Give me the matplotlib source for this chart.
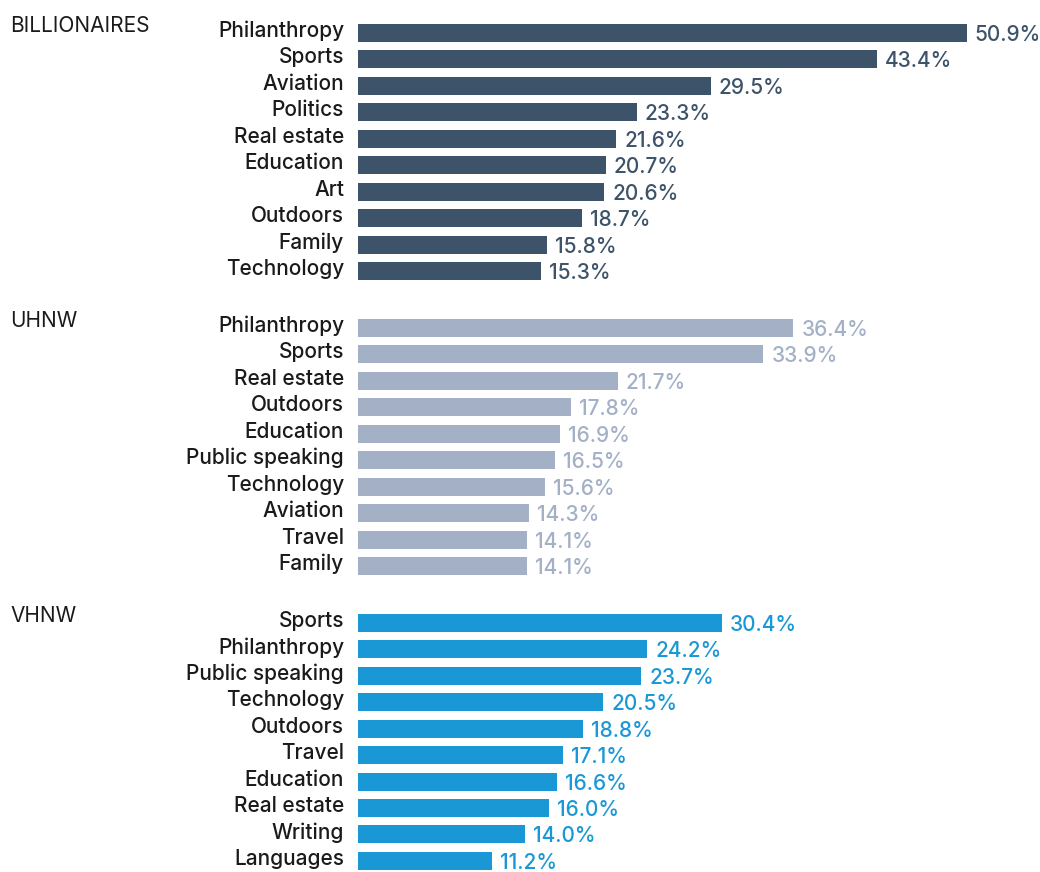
import matplotlib
matplotlib.use("Agg")
import matplotlib.pyplot as plt

groups = ["BILLIONAIRES", "UHNW", "VHNW"]

bil_cats = ["Philanthropy", "Sports", "Aviation", "Politics", "Real estate",
            "Education", "Art", "Outdoors", "Family", "Technology"]
bil_vals = [50.9, 43.4, 29.5, 23.3, 21.6, 20.7, 20.6, 18.7, 15.8, 15.3]

uhnw_cats = ["Philanthropy", "Sports", "Real estate", "Outdoors", "Education",
             "Public speaking", "Technology", "Aviation", "Travel", "Family"]
uhnw_vals = [36.4, 33.9, 21.7, 17.8, 16.9, 16.5, 15.6, 14.3, 14.1, 14.1]

vhnw_cats = ["Sports", "Philanthropy", "Public speaking", "Technology", "Outdoors",
             "Travel", "Education", "Real estate", "Writing", "Languages"]
vhnw_vals = [30.4, 24.2, 23.7, 20.5, 18.8, 17.1, 16.6, 16.0, 14.0, 11.2]

colors = ["#3d5369", "#a3b0c6", "#1a98d5"]
label_colors = ["#3d5369", "#a3b0c6", "#1a98d5"]

FONT = ["Inter", "DejaVu Sans"]
plt.rcParams['font.family'] = FONT

W, H = 1040, 872
fig = plt.figure(figsize=(W / 100, H / 100), dpi=100)
ax_left = 358 / W
ax = fig.add_axes([ax_left, 0, 1 - ax_left, 1])

px_per_unit = 11.96
row_px = 26.45
first_px = 33
group_step = 11.15

ax.set_xlim(0, (W - 358) / px_per_unit)
ax.set_ylim((H - first_px) / row_px, -first_px / row_px)
ax.axis("off")

data = [(bil_cats, bil_vals), (uhnw_cats, uhnw_vals), (vhnw_cats, vhnw_vals)]
for g, (cats, vals) in enumerate(data):
    ys = [g * group_step + i for i in range(len(cats))]
    ax.barh(ys, vals, height=0.68, color=colors[g], linewidth=0)
    for y, c, v in zip(ys, cats, vals):
        ax.annotate(c, xy=(0, y), xytext=(-14, 2), textcoords="offset pixels",
                    ha="right", va="center", fontsize=15, color="#1a1a1a",
                    fontweight="medium", annotation_clip=False)
        ax.annotate(f"{v:.1f}%", xy=(v, y), xytext=(8, -2), textcoords="offset pixels",
                    ha="left", va="center", fontsize=15, color=label_colors[g],
                    fontweight="medium", annotation_clip=False)
    fig.text(10 / W, 1 - (ys[0] * row_px + first_px - 7) / H, groups[g],
             ha="left", va="center", fontsize=15, color="#1a1a1a")

fig.savefig("out.png", dpi=100)
